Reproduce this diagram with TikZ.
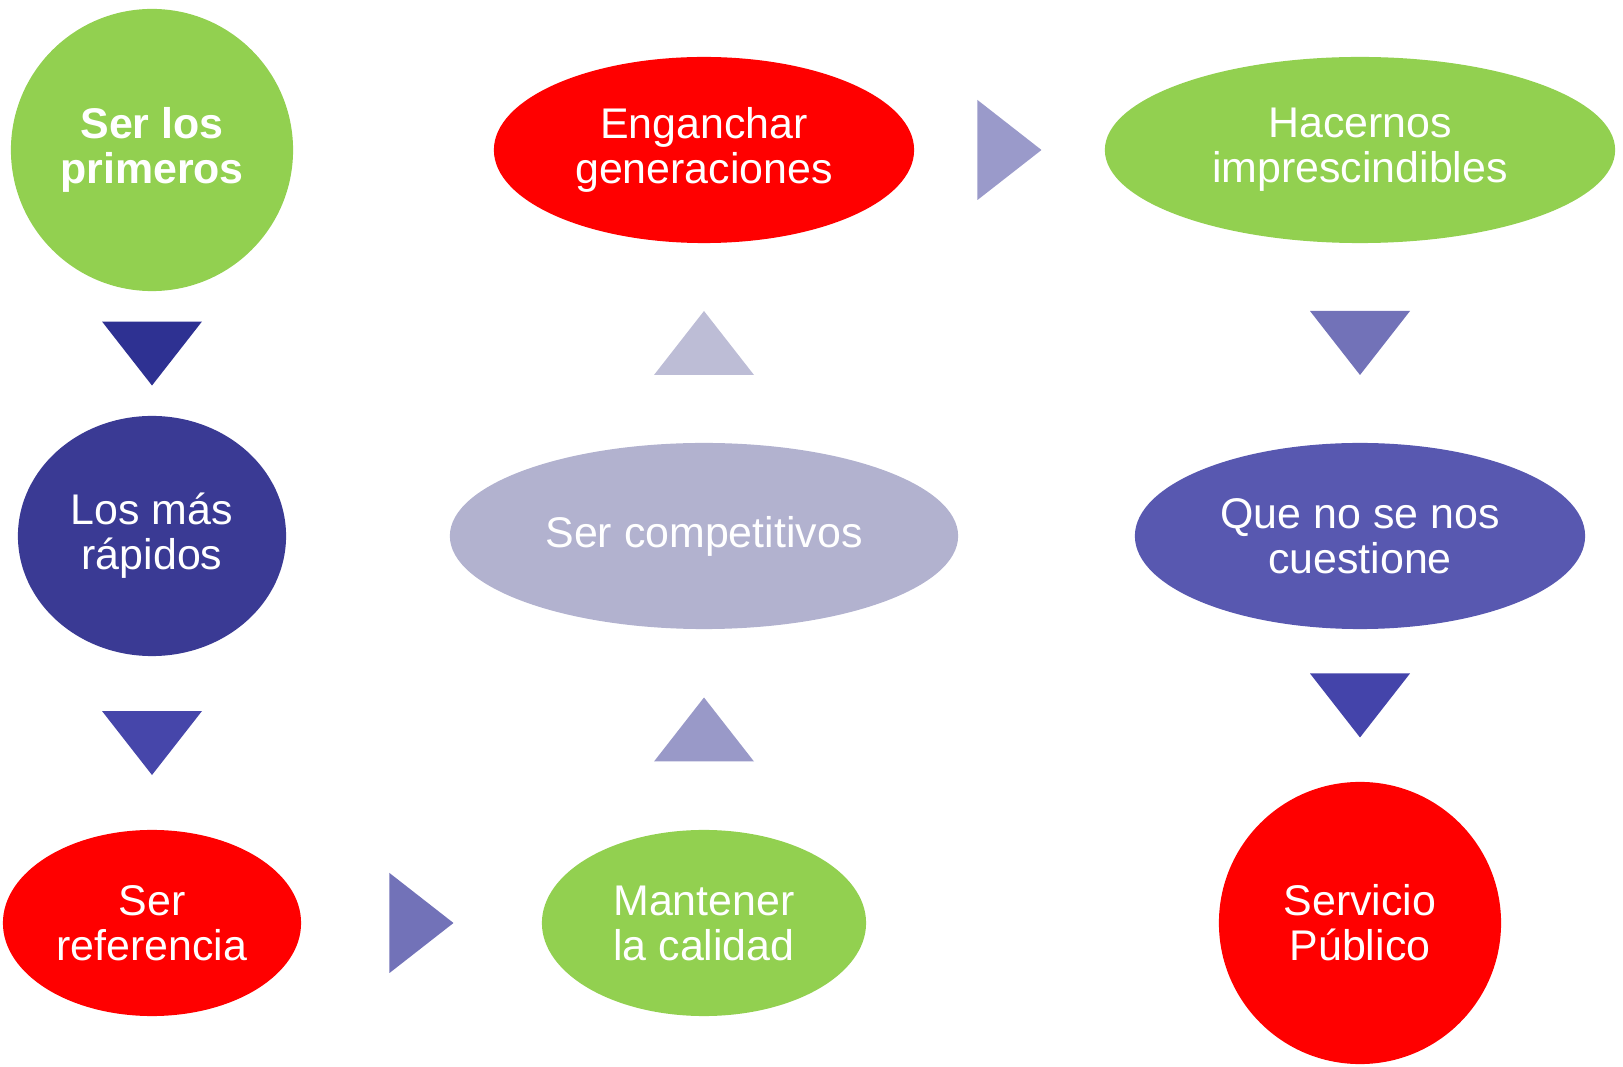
\documentclass[tikz,border=0pt]{standalone}
\usepackage{fontspec}
\setmainfont{Liberation Sans}
\usepackage{xcolor}
\usepackage{tikz}
\usetikzlibrary{shapes.geometric,calc}
\definecolor{cverde}{HTML}{92D050}
\definecolor{crojo}{HTML}{FF0000}
\definecolor{cmarino}{HTML}{3A3A94}
\definecolor{clila}{HTML}{B2B2CF}
\definecolor{cazul}{HTML}{5858B0}
\definecolor{ct1}{HTML}{2E3192}
\definecolor{ct2}{HTML}{4646AA}
\definecolor{ct3}{HTML}{7272B8}
\definecolor{ct4}{HTML}{9999C8}
\definecolor{ct5}{HTML}{BDBDD6}
\definecolor{ct6}{HTML}{9A9ACA}
\definecolor{ct8}{HTML}{4444AA}
\tikzset{
  elipse/.style={ellipse, inner sep=0pt, align=center, text=white,
    font=\fontsize{12.2}{12.8}\selectfont},
  circulo/.style={circle, inner sep=0pt, align=center, text=white,
    minimum size=2.82cm, font=\fontsize{12.2}{12.8}\selectfont},
  tribaja/.pic={\fill[#1] (-50,-32) -- (50,-32) -- (0,32) -- cycle;},
  trisube/.pic={\fill[#1] (-50,32) -- (50,32) -- (0,-32) -- cycle;},
  triderecha/.pic={\fill[#1] (-32,-50) -- (-32,50) -- (32,0) -- cycle;},
}
\begin{document}
\begin{tikzpicture}[x=0.01cm, y=-0.01cm]
  \useasboundingbox (0,0) rectangle (1623,1067);
  % columna izquierda
  \node[circulo, fill=cverde, font=\fontsize{12.2}{12.8}\selectfont\bfseries] (prim) at (152,150) {Ser los\\primeros};
  \node[elipse, fill=cmarino, minimum width=2.68cm, minimum height=2.4cm] (rap) at (152,536) {Los más\\rápidos};
  \node[elipse, fill=crojo, minimum width=2.98cm, minimum height=1.86cm] (ref) at (152,923) {Ser\\referencia};
  % columna central
  \node[elipse, fill=cverde, minimum width=3.24cm, minimum height=1.86cm] (cal) at (704,923) {Mantener\\la calidad};
  \node[elipse, fill=clila, minimum width=5.08cm, minimum height=1.86cm] (comp) at (704,536) {Ser competitivos};
  \node[elipse, fill=crojo, minimum width=4.2cm, minimum height=1.86cm] (eng) at (704,150) {Enganchar\\generaciones};
  % columna derecha
  \node[elipse, fill=cverde, minimum width=5.1cm, minimum height=1.86cm] (hac) at (1360,150) {Hacernos\\imprescindibles};
  \node[elipse, fill=cazul, minimum width=4.5cm, minimum height=1.86cm] (cue) at (1360,536) {Que no se nos\\cuestione};
  \node[circulo, fill=crojo] (serv) at (1360,923) {Servicio\\Público};
  % flechas
  \pic at ($(prim.south)!0.5!(rap.north)$) {tribaja=ct1};
  \pic at ($(rap.south)!0.5!(ref.north)$) {tribaja=ct2};
  \pic at ($(ref.east)!0.5!(cal.west)$) {triderecha=ct3};
  \pic at ($(cal.north)!0.5!(comp.south)$) {trisube=ct4};
  \pic at ($(comp.north)!0.5!(eng.south)$) {trisube=ct5};
  \pic at ($(eng.east)!0.5!(hac.west)$) {triderecha=ct6};
  \pic at ($(hac.south)!0.5!(cue.north)$) {tribaja=ct3};
  \pic at ($(cue.south)!0.5!(serv.north)$) {tribaja=ct8};
\end{tikzpicture}
\end{document}
